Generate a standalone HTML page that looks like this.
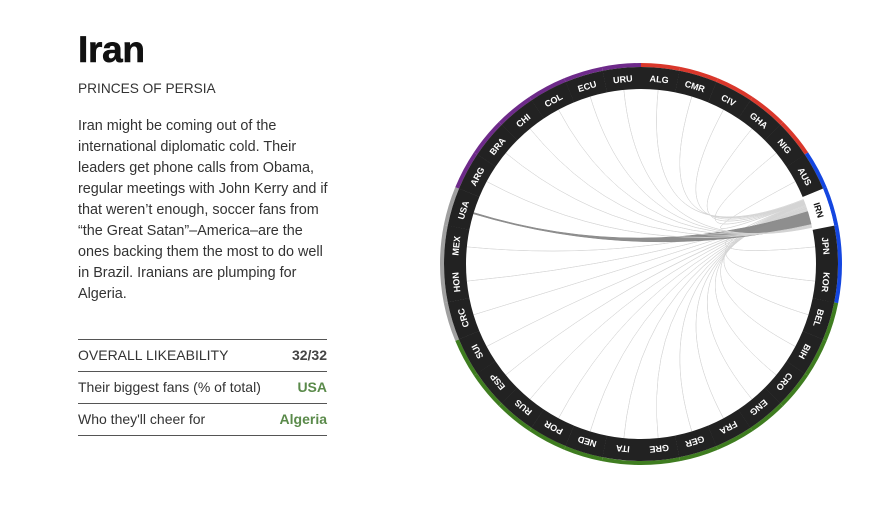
<!DOCTYPE html>
<html><head><meta charset="utf-8"><style>
body{margin:0;width:886px;height:522px;background:#fff;font-family:"Liberation Sans",sans-serif;overflow:hidden;position:relative}
#left{position:absolute;left:78px;top:29px;width:252px;color:#333}
h1{margin:0;font-size:37px;font-weight:900;color:#111;letter-spacing:-0.3px;line-height:42px;-webkit-text-stroke:0.6px #111}
.sub{font-size:13.7px;margin-top:10px;color:#333}
.p{font-size:14.4px;line-height:21px;margin-top:20px;color:#333;width:252px}
.row{position:absolute;left:0;width:249px;height:31px;border-top:1px solid #555;font-size:14px;line-height:31px}
.row b{position:absolute;right:0;top:0}
</style></head><body>
<div id="left">
<h1>Iran</h1>
<div class="sub">PRINCES OF PERSIA</div>
<div class="p">Iran might be coming out of the international diplomatic cold. Their leaders get phone calls from Obama, regular meetings with John Kerry and if that weren’t enough, soccer fans from “the Great Satan”–America–are the ones backing them the most to do well in Brazil. Iranians are plumping for Algeria.</div>
<div class="row" style="top:310px">OVERALL LIKEABILITY<b style="color:#444">32/32</b></div>
<div class="row" style="top:342px">Their biggest fans (% of total)<b style="color:#5a8a4a">USA</b></div>
<div class="row" style="top:374px;border-bottom:1px solid #555">Who they'll cheer for<b style="color:#5a8a4a">Algeria</b></div>
</div>
<svg id="chart" width="886" height="522" style="position:absolute;left:0;top:0"></svg>
<script>
const teams=["ALG","CMR","CIV","GHA","NIG","AUS","IRN","JPN","KOR","BEL","BIH","CRO","ENG","FRA","GER","GRE","ITA","NED","POR","RUS","ESP","SUI","CRC","HON","MEX","USA","ARG","BRA","CHI","COL","ECU","URU"];
const regions=["af","af","af","af","af","as","as","as","as","eu","eu","eu","eu","eu","eu","eu","eu","eu","eu","eu","eu","eu","nc","nc","nc","nc","sa","sa","sa","sa","sa","sa"];
const fans=[2,1,1,1,1,1,0,1,1,1,1,1,1,2,2,1,2,1,1,1,2,1,1,1,1,30,2,1,1,1,1,1];
const regionColors={af:"#d9372b",as:"#1446e0",eu:"#3f7d20",nc:"#a0a0a0",sa:"#6e2a8a"};
const NS="http://www.w3.org/2000/svg",svg=document.getElementById("chart");
const cx=641,cy=264,rIn=175,rOut=197,rRing=201,seg=360/teams.length,home=teams.indexOf("IRN");
function pt(a,r){const t=a*Math.PI/180;return [cx+r*Math.sin(t),cy-r*Math.cos(t)];}
function arc(a0,a1,r0,r1){const p=pt(a0,r1),q=pt(a1,r1),s=pt(a1,r0),u=pt(a0,r0);
return `M${p}A${r1},${r1} 0 0 1 ${q}L${s}A${r0},${r0} 0 0 0 ${u}Z`;}
const gChords=document.createElementNS(NS,"g");svg.appendChild(gChords);
const total=fans.reduce((a,b)=>a+b,0);
let cur=home*seg+0.8;const span=seg-1.6;
fans.forEach((v,i)=>{if(i===home||v<=0)return;
const w=v/total*span,a0=cur,a1=cur+w;cur=a1;
const ta=i*seg+seg/2,t0=ta-w*0.05,t1=ta+w*0.05;
const p0=pt(a0,rIn),p1=pt(a1,rIn),q0=pt(t0,rIn),q1=pt(t1,rIn);
const path=document.createElementNS(NS,"path");
path.setAttribute("d",`M${p0}A${rIn},${rIn} 0 0 1 ${p1}Q${cx},${cy} ${q0}L${q1}Q${cx},${cy} ${p0}Z`);
const big=v>=10;
path.setAttribute("fill",big?"#888":"#d4d4d4");
path.setAttribute("stroke",big?"#888":"#d4d4d4");
path.setAttribute("stroke-width","0.5");
path.setAttribute("fill-opacity",big?"0.95":"0.6");


gChords.appendChild(path);});
teams.forEach((t,i)=>{const a0=i*seg,a1=a0+seg;
const ring=document.createElementNS(NS,"path");
ring.setAttribute("d",arc(a0,a1,rOut,rRing));ring.setAttribute("fill",regionColors[regions[i]]);


svg.appendChild(ring);
const band=document.createElementNS(NS,"path");
band.setAttribute("d",arc(a0,a1+(i===home?0:0.05),rIn,rOut));band.setAttribute("fill",i===home?"#fff":"#222");


svg.appendChild(band);
const tx=document.createElementNS(NS,"text");
const am=a0+seg/2;tx.setAttribute("transform",`translate(${cx},${cy}) rotate(${am}) translate(0,${-(rIn+rOut)/2+3.5})`);
tx.setAttribute("text-anchor","middle");tx.setAttribute("font-size","9");tx.setAttribute("font-weight","bold");
tx.setAttribute("fill",i===home?"#111":"#fff");tx.setAttribute("font-family","Liberation Sans, sans-serif");
tx.textContent=t;


svg.appendChild(tx);});
</script>
</body></html>
